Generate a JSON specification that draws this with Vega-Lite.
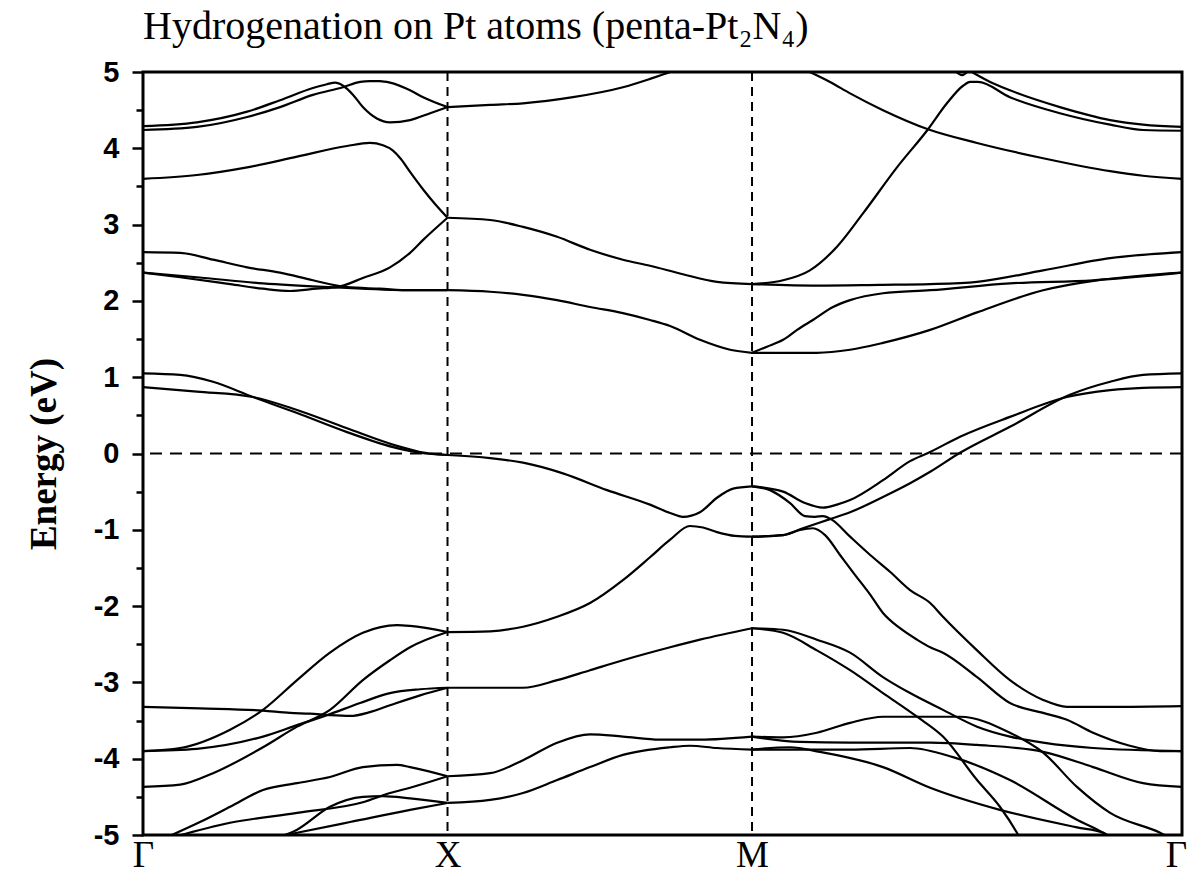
{
  "$schema": "https://vega.github.io/schema/vega-lite/v6.json",
  "width": 1039,
  "height": 763,
  "autosize": {"type": "none"},
  "padding": {"left": 143, "top": 72, "right": 8, "bottom": 49},
  "background": "white",
  "config": {
    "view": {"stroke": "black", "strokeWidth": 3},
    "axis": {"domain": false, "grid": false}
  },
  "title": {
    "text": "Hydrogenation on Pt atoms (penta-Pt₂N₄)",
    "anchor": "start",
    "frame": "group",
    "font": "Liberation Serif",
    "fontSize": 40,
    "fontWeight": "normal",
    "color": "black",
    "offset": 11
  },
  "resolve": {"axis": {"y": "independent"}},
  "layer": [
    {
      "data": {
        "values": [
          {"b":"A1","k":0,"e":4.29},{"b":"A1","k":0.177,"e":4.34},{"b":"A1","k":0.342,"e":4.48},{"b":"A1","k":0.45,"e":4.63},{"b":"A1","k":0.558,"e":4.79},{"b":"A1","k":0.604,"e":4.84},{"b":"A1","k":0.631,"e":4.86},{"b":"A1","k":0.657,"e":4.82},{"b":"A1","k":0.69,"e":4.70},{"b":"A1","k":0.722,"e":4.54},{"b":"A1","k":0.768,"e":4.39},{"b":"A1","k":0.811,"e":4.34},{"b":"A1","k":0.877,"e":4.37},{"b":"A1","k":0.943,"e":4.46},{"b":"A1","k":1,"e":4.54},
          {"b":"A2","k":0,"e":4.24},{"b":"A2","k":0.177,"e":4.28},{"b":"A2","k":0.342,"e":4.41},{"b":"A2","k":0.45,"e":4.54},{"b":"A2","k":0.558,"e":4.70},{"b":"A2","k":0.657,"e":4.80},{"b":"A2","k":0.713,"e":4.87},{"b":"A2","k":0.745,"e":4.88},{"b":"A2","k":0.778,"e":4.88},{"b":"A2","k":0.811,"e":4.86},{"b":"A2","k":0.877,"e":4.76},{"b":"A2","k":0.92,"e":4.67},{"b":"A2","k":1,"e":4.54},
          {"b":"B","k":0,"e":3.60},{"b":"B","k":0.177,"e":3.65},{"b":"B","k":0.342,"e":3.75},{"b":"B","k":0.506,"e":3.89},{"b":"B","k":0.67,"e":4.03},{"b":"B","k":0.745,"e":4.07},{"b":"B","k":0.788,"e":4.04},{"b":"B","k":0.821,"e":3.97},{"b":"B","k":0.847,"e":3.86},{"b":"B","k":0.877,"e":3.69},{"b":"B","k":0.92,"e":3.46},{"b":"B","k":0.959,"e":3.27},{"b":"B","k":1,"e":3.09},
          {"b":"C","k":0,"e":2.37},{"b":"C","k":0.122,"e":2.31},{"b":"C","k":0.286,"e":2.22},{"b":"C","k":0.394,"e":2.16},{"b":"C","k":0.483,"e":2.13},{"b":"C","k":0.571,"e":2.16},{"b":"C","k":0.637,"e":2.18},{"b":"C","k":0.722,"e":2.30},{"b":"C","k":0.811,"e":2.44},{"b":"C","k":0.877,"e":2.63},{"b":"C","k":0.92,"e":2.80},{"b":"C","k":1,"e":3.09},
          {"b":"D1","k":0,"e":2.64},{"b":"D1","k":0.122,"e":2.63},{"b":"D1","k":0.23,"e":2.54},{"b":"D1","k":0.342,"e":2.44},{"b":"D1","k":0.45,"e":2.37},{"b":"D1","k":0.558,"e":2.27},{"b":"D1","k":0.67,"e":2.18},{"b":"D1","k":0.778,"e":2.16},{"b":"D1","k":0.877,"e":2.14},{"b":"D1","k":1,"e":2.14},
          {"b":"D2","k":0,"e":2.37},{"b":"D2","k":0.177,"e":2.31},{"b":"D2","k":0.394,"e":2.23},{"b":"D2","k":0.614,"e":2.18},{"b":"D2","k":0.877,"e":2.14},{"b":"D2","k":1,"e":2.14},
          {"b":"V1","k":0,"e":1.05},{"b":"V1","k":0.122,"e":1.03},{"b":"V1","k":0.23,"e":0.94},{"b":"V1","k":0.361,"e":0.74},{"b":"V1","k":0.506,"e":0.53},{"b":"V1","k":0.67,"e":0.28},{"b":"V1","k":0.834,"e":0.07},{"b":"V1","k":0.91,"e":0.01},{"b":"V1","k":1,"e":-0.02},
          {"b":"V2","k":0,"e":0.87},{"b":"V2","k":0.177,"e":0.81},{"b":"V2","k":0.361,"e":0.74},{"b":"V2","k":0.506,"e":0.57},{"b":"V2","k":0.67,"e":0.33},{"b":"V2","k":0.834,"e":0.10},{"b":"V2","k":0.91,"e":0.02},{"b":"V2","k":1,"e":-0.02},
          {"b":"E1","k":1,"e":-0.02},{"b":"E1","k":1.14,"e":-0.06},{"b":"E1","k":1.248,"e":-0.12},{"b":"E1","k":1.379,"e":-0.26},{"b":"E1","k":1.524,"e":-0.48},{"b":"E1","k":1.665,"e":-0.67},{"b":"E1","k":1.731,"e":-0.78},{"b":"E1","k":1.773,"e":-0.83},{"b":"E1","k":1.829,"e":-0.77},{"b":"E1","k":1.885,"e":-0.58},{"b":"E1","k":1.938,"e":-0.46},{"b":"E1","k":2,"e":-0.43},
          {"b":"E2","k":1,"e":-2.34},{"b":"E2","k":1.14,"e":-2.33},{"b":"E2","k":1.248,"e":-2.27},{"b":"E2","k":1.36,"e":-2.14},{"b":"E2","k":1.468,"e":-1.96},{"b":"E2","k":1.576,"e":-1.66},{"b":"E2","k":1.665,"e":-1.36},{"b":"E2","k":1.731,"e":-1.13},{"b":"E2","k":1.796,"e":-0.95},{"b":"E2","k":1.839,"e":-0.97},{"b":"E2","k":1.885,"e":-1.03},{"b":"E2","k":1.944,"e":-1.08},{"b":"E2","k":2,"e":-1.09},
          {"b":"N1","k":1,"e":2.14},{"b":"N1","k":1.14,"e":2.12},{"b":"N1","k":1.248,"e":2.08},{"b":"N1","k":1.36,"e":2.01},{"b":"N1","k":1.468,"e":1.92},{"b":"N1","k":1.576,"e":1.84},{"b":"N1","k":1.665,"e":1.75},{"b":"N1","k":1.731,"e":1.67},{"b":"N1","k":1.829,"e":1.49},{"b":"N1","k":1.928,"e":1.36},{"b":"N1","k":2,"e":1.32},
          {"b":"N2","k":1,"e":3.09},{"b":"N2","k":1.14,"e":3.06},{"b":"N2","k":1.248,"e":2.97},{"b":"N2","k":1.36,"e":2.84},{"b":"N2","k":1.468,"e":2.67},{"b":"N2","k":1.576,"e":2.54},{"b":"N2","k":1.665,"e":2.46},{"b":"N2","k":1.773,"e":2.35},{"b":"N2","k":1.885,"e":2.25},{"b":"N2","k":2,"e":2.22},
          {"b":"N3","k":1,"e":4.54},{"b":"N3","k":1.14,"e":4.57},{"b":"N3","k":1.248,"e":4.59},{"b":"N3","k":1.412,"e":4.67},{"b":"N3","k":1.576,"e":4.80},{"b":"N3","k":1.665,"e":4.91},{"b":"N3","k":1.731,"e":5.0},{"b":"N3","k":1.796,"e":5.10},
          {"b":"O","k":2.125,"e":5.12},{"b":"O","k":2.19,"e":5.0},{"b":"O","k":2.256,"e":4.87},{"b":"O","k":2.322,"e":4.72},{"b":"O","k":2.43,"e":4.50},{"b":"O","k":2.578,"e":4.25},{"b":"O","k":2.739,"e":4.07},{"b":"O","k":2.956,"e":3.87},{"b":"O","k":3.176,"e":3.70},{"b":"O","k":3.284,"e":3.64},{"b":"O","k":3.412,"e":3.60},
          {"b":"P","k":2,"e":2.22},{"b":"P","k":2.102,"e":2.27},{"b":"P","k":2.19,"e":2.40},{"b":"P","k":2.279,"e":2.71},{"b":"P","k":2.365,"e":3.15},{"b":"P","k":2.476,"e":3.75},{"b":"P","k":2.578,"e":4.25},{"b":"P","k":2.64,"e":4.59},{"b":"P","k":2.693,"e":4.82},{"b":"P","k":2.716,"e":4.87},{"b":"P","k":2.742,"e":4.87},{"b":"P","k":2.847,"e":4.67},{"b":"P","k":3.011,"e":4.46},{"b":"P","k":3.176,"e":4.31},{"b":"P","k":3.284,"e":4.24},{"b":"P","k":3.412,"e":4.23},
          {"b":"Q","k":2.683,"e":5.10},{"b":"Q","k":2.709,"e":5.03},{"b":"Q","k":2.739,"e":4.96},{"b":"Q","k":2.782,"e":4.87},{"b":"Q","k":2.847,"e":4.76},{"b":"Q","k":3.011,"e":4.54},{"b":"Q","k":3.176,"e":4.37},{"b":"Q","k":3.284,"e":4.31},{"b":"Q","k":3.412,"e":4.28},
          {"b":"W","k":2.655,"e":5.06},{"b":"W","k":2.69,"e":4.96},{"b":"W","k":2.72,"e":5.06},
          {"b":"R","k":2,"e":2.22},{"b":"R","k":2.213,"e":2.20},{"b":"R","k":2.42,"e":2.21},{"b":"R","k":2.585,"e":2.22},{"b":"R","k":2.739,"e":2.25},{"b":"R","k":2.956,"e":2.40},{"b":"R","k":3.176,"e":2.56},{"b":"R","k":3.412,"e":2.64},
          {"b":"S","k":2,"e":1.32},{"b":"S","k":2.049,"e":1.40},{"b":"S","k":2.102,"e":1.49},{"b":"S","k":2.148,"e":1.62},{"b":"S","k":2.2,"e":1.75},{"b":"S","k":2.266,"e":1.92},{"b":"S","k":2.322,"e":2.01},{"b":"S","k":2.43,"e":2.10},{"b":"S","k":2.585,"e":2.14},{"b":"S","k":2.847,"e":2.23},{"b":"S","k":3.12,"e":2.27},{"b":"S","k":3.412,"e":2.37},
          {"b":"T","k":2,"e":1.32},{"b":"T","k":2.213,"e":1.32},{"b":"T","k":2.322,"e":1.36},{"b":"T","k":2.43,"e":1.45},{"b":"T","k":2.585,"e":1.62},{"b":"T","k":2.739,"e":1.85},{"b":"T","k":2.956,"e":2.14},{"b":"T","k":3.133,"e":2.27},{"b":"T","k":3.274,"e":2.33},{"b":"T","k":3.412,"e":2.37},
          {"b":"AL","k":2,"e":-0.43},{"b":"AL","k":2.102,"e":-0.50},{"b":"AL","k":2.174,"e":-0.65},{"b":"AL","k":2.233,"e":-0.71},{"b":"AL","k":2.279,"e":-0.67},{"b":"AL","k":2.322,"e":-0.61},{"b":"AL","k":2.43,"e":-0.35},{"b":"AL","k":2.519,"e":-0.10},{"b":"AL","k":2.585,"e":0.02},{"b":"AL","k":2.683,"e":0.22},{"b":"AL","k":2.847,"e":0.48},{"b":"AL","k":3.034,"e":0.74},{"b":"AL","k":3.176,"e":0.83},{"b":"AL","k":3.284,"e":0.86},{"b":"AL","k":3.412,"e":0.87},
          {"b":"BE","k":2,"e":-1.09},{"b":"BE","k":2.102,"e":-1.07},{"b":"BE","k":2.167,"e":-0.98},{"b":"BE","k":2.256,"e":-0.86},{"b":"BE","k":2.322,"e":-0.77},{"b":"BE","k":2.43,"e":-0.57},{"b":"BE","k":2.519,"e":-0.39},{"b":"BE","k":2.585,"e":-0.24},{"b":"BE","k":2.683,"e":0.01},{"b":"BE","k":2.847,"e":0.35},{"b":"BE","k":3.044,"e":0.77},{"b":"BE","k":3.176,"e":0.94},{"b":"BE","k":3.284,"e":1.03},{"b":"BE","k":3.412,"e":1.05},
          {"b":"F","k":2,"e":-0.43},{"b":"F","k":2.059,"e":-0.48},{"b":"F","k":2.125,"e":-0.65},{"b":"F","k":2.174,"e":-0.82},{"b":"F","k":2.207,"e":-0.83},{"b":"F","k":2.233,"e":-0.82},{"b":"F","k":2.263,"e":-0.87},{"b":"F","k":2.322,"e":-1.09},{"b":"F","k":2.388,"e":-1.33},{"b":"F","k":2.453,"e":-1.55},{"b":"F","k":2.519,"e":-1.79},{"b":"F","k":2.585,"e":-1.96},{"b":"F","k":2.627,"e":-2.14},{"b":"F","k":2.739,"e":-2.58},{"b":"F","k":2.847,"e":-2.97},{"b":"F","k":2.956,"e":-3.23},{"b":"F","k":3.034,"e":-3.32},{"b":"F","k":3.176,"e":-3.32},{"b":"F","k":3.412,"e":-3.31},
          {"b":"G","k":2,"e":-1.09},{"b":"G","k":2.102,"e":-1.07},{"b":"G","k":2.158,"e":-1.00},{"b":"G","k":2.2,"e":-0.98},{"b":"G","k":2.24,"e":-1.07},{"b":"G","k":2.289,"e":-1.33},{"b":"G","k":2.338,"e":-1.59},{"b":"G","k":2.388,"e":-1.85},{"b":"G","k":2.43,"e":-2.09},{"b":"G","k":2.486,"e":-2.29},{"b":"G","k":2.542,"e":-2.44},{"b":"G","k":2.585,"e":-2.54},{"b":"G","k":2.627,"e":-2.61},{"b":"G","k":2.739,"e":-2.93},{"b":"G","k":2.847,"e":-3.27},{"b":"G","k":2.956,"e":-3.40},{"b":"G","k":3.034,"e":-3.49},{"b":"G","k":3.12,"e":-3.66},{"b":"G","k":3.232,"e":-3.82},{"b":"G","k":3.34,"e":-3.90},{"b":"G","k":3.412,"e":-3.90},
          {"b":"HU","k":2,"e":-2.29},{"b":"HU","k":2.102,"e":-2.31},{"b":"HU","k":2.213,"e":-2.44},{"b":"HU","k":2.322,"e":-2.61},{"b":"HU","k":2.43,"e":-2.93},{"b":"HU","k":2.519,"e":-3.14},{"b":"HU","k":2.627,"e":-3.36},{"b":"HU","k":2.739,"e":-3.58},{"b":"HU","k":2.847,"e":-3.71},{"b":"HU","k":2.956,"e":-3.79},{"b":"HU","k":3.12,"e":-3.86},{"b":"HU","k":3.412,"e":-3.90},
          {"b":"HL","k":2,"e":-2.29},{"b":"HL","k":2.102,"e":-2.35},{"b":"HL","k":2.213,"e":-2.58},{"b":"HL","k":2.322,"e":-2.84},{"b":"HL","k":2.43,"e":-3.14},{"b":"HL","k":2.542,"e":-3.45},{"b":"HL","k":2.627,"e":-3.71},{"b":"HL","k":2.739,"e":-4.28},{"b":"HL","k":2.814,"e":-4.63},{"b":"HL","k":2.87,"e":-4.97},{"b":"HL","k":2.88,"e":-5.04},
          {"b":"I","k":2,"e":-3.71},{"b":"I","k":2.102,"e":-3.72},{"b":"I","k":2.213,"e":-3.66},{"b":"I","k":2.322,"e":-3.53},{"b":"I","k":2.43,"e":-3.45},{"b":"I","k":2.585,"e":-3.45},{"b":"I","k":2.683,"e":-3.45},{"b":"I","k":2.847,"e":-3.66},{"b":"I","k":2.956,"e":-3.92},{"b":"I","k":3.067,"e":-4.37},{"b":"I","k":3.176,"e":-4.71},{"b":"I","k":3.34,"e":-4.97},{"b":"I","k":3.37,"e":-5.03},
          {"b":"J","k":2,"e":-3.71},{"b":"J","k":2.158,"e":-3.78},{"b":"J","k":2.322,"e":-3.79},{"b":"J","k":2.585,"e":-3.79},{"b":"J","k":2.739,"e":-3.82},{"b":"J","k":2.956,"e":-3.91},{"b":"J","k":3.12,"e":-4.11},{"b":"J","k":3.284,"e":-4.32},{"b":"J","k":3.412,"e":-4.37},
          {"b":"K","k":2,"e":-3.88},{"b":"K","k":2.158,"e":-3.88},{"b":"K","k":2.322,"e":-3.88},{"b":"K","k":2.519,"e":-3.86},{"b":"K","k":2.66,"e":-3.98},{"b":"K","k":2.847,"e":-4.28},{"b":"K","k":3.067,"e":-4.80},{"b":"K","k":3.153,"e":-4.97},{"b":"K","k":3.176,"e":-5.03},
          {"b":"L","k":2,"e":-3.88},{"b":"L","k":2.125,"e":-3.85},{"b":"L","k":2.223,"e":-3.91},{"b":"L","k":2.43,"e":-4.11},{"b":"L","k":2.585,"e":-4.38},{"b":"L","k":2.814,"e":-4.67},{"b":"L","k":3.067,"e":-4.90},{"b":"L","k":3.153,"e":-4.97},{"b":"L","k":3.176,"e":-5.02},
          {"b":"a","k":0,"e":-3.90},{"b":"a","k":0.122,"e":-3.86},{"b":"a","k":0.286,"e":-3.62},{"b":"a","k":0.394,"e":-3.36},{"b":"a","k":0.506,"e":-2.97},{"b":"a","k":0.614,"e":-2.61},{"b":"a","k":0.722,"e":-2.35},{"b":"a","k":0.834,"e":-2.25},{"b":"a","k":0.877,"e":-2.26},{"b":"a","k":1,"e":-2.34},
          {"b":"bb","k":0,"e":-3.90},{"b":"bb","k":0.177,"e":-3.87},{"b":"bb","k":0.394,"e":-3.71},{"b":"bb","k":0.506,"e":-3.56},{"b":"bb","k":0.604,"e":-3.43},{"b":"bb","k":0.713,"e":-3.27},{"b":"bb","k":0.811,"e":-3.14},{"b":"bb","k":0.91,"e":-3.09},{"b":"bb","k":1,"e":-3.07},
          {"b":"c","k":0,"e":-4.37},{"b":"c","k":0.122,"e":-4.34},{"b":"c","k":0.23,"e":-4.19},{"b":"c","k":0.394,"e":-3.85},{"b":"c","k":0.506,"e":-3.58},{"b":"c","k":0.614,"e":-3.36},{"b":"c","k":0.722,"e":-2.97},{"b":"c","k":0.811,"e":-2.71},{"b":"c","k":0.877,"e":-2.54},{"b":"c","k":1,"e":-2.34},
          {"b":"L1","k":0,"e":-3.32},{"b":"L1","k":0.187,"e":-3.34},{"b":"L1","k":0.394,"e":-3.37},{"b":"L1","k":0.483,"e":-3.40},{"b":"L1","k":0.548,"e":-3.41},{"b":"L1","k":0.614,"e":-3.43},{"b":"L1","k":0.68,"e":-3.44},{"b":"L1","k":0.745,"e":-3.39},{"b":"L1","k":0.811,"e":-3.30},{"b":"L1","k":0.91,"e":-3.17},{"b":"L1","k":1,"e":-3.07},
          {"b":"d","k":0.072,"e":-5.04},{"b":"d","k":0.187,"e":-4.83},{"b":"d","k":0.286,"e":-4.63},{"b":"d","k":0.394,"e":-4.41},{"b":"d","k":0.506,"e":-4.32},{"b":"d","k":0.614,"e":-4.24},{"b":"d","k":0.722,"e":-4.11},{"b":"d","k":0.834,"e":-4.08},{"b":"d","k":0.877,"e":-4.11},{"b":"d","k":1,"e":-4.23},
          {"b":"ee","k":0.089,"e":-5.04},{"b":"ee","k":0.286,"e":-4.84},{"b":"ee","k":0.506,"e":-4.71},{"b":"ee","k":0.722,"e":-4.57},{"b":"ee","k":0.811,"e":-4.45},{"b":"ee","k":0.877,"e":-4.38},{"b":"ee","k":1,"e":-4.23},
          {"b":"f","k":0.44,"e":-5.04},{"b":"f","k":0.506,"e":-4.93},{"b":"f","k":0.614,"e":-4.63},{"b":"f","k":0.722,"e":-4.50},{"b":"f","k":0.788,"e":-4.49},{"b":"f","k":0.877,"e":-4.52},{"b":"f","k":1,"e":-4.58},
          {"b":"g","k":0.417,"e":-5.04},{"b":"g","k":0.506,"e":-4.97},{"b":"g","k":0.68,"e":-4.83},{"b":"g","k":0.877,"e":-4.67},{"b":"g","k":1,"e":-4.58},
          {"b":"N4","k":1,"e":-3.07},{"b":"N4","k":1.248,"e":-3.07},{"b":"N4","k":1.36,"e":-2.97},{"b":"N4","k":1.468,"e":-2.84},{"b":"N4","k":1.576,"e":-2.71},{"b":"N4","k":1.731,"e":-2.54},{"b":"N4","k":1.829,"e":-2.44},{"b":"N4","k":2,"e":-2.29},
          {"b":"N5","k":1,"e":-4.23},{"b":"N5","k":1.14,"e":-4.19},{"b":"N5","k":1.248,"e":-4.02},{"b":"N5","k":1.36,"e":-3.79},{"b":"N5","k":1.468,"e":-3.68},{"b":"N5","k":1.576,"e":-3.71},{"b":"N5","k":1.698,"e":-3.75},{"b":"N5","k":1.829,"e":-3.75},{"b":"N5","k":2,"e":-3.71},
          {"b":"N6","k":1,"e":-4.58},{"b":"N6","k":1.14,"e":-4.54},{"b":"N6","k":1.248,"e":-4.45},{"b":"N6","k":1.36,"e":-4.28},{"b":"N6","k":1.468,"e":-4.11},{"b":"N6","k":1.576,"e":-3.95},{"b":"N6","k":1.731,"e":-3.85},{"b":"N6","k":1.796,"e":-3.83},{"b":"N6","k":1.885,"e":-3.86},{"b":"N6","k":2,"e":-3.88}
        ]
      },
      "mark": {"type": "line", "clip": true, "color": "black", "strokeWidth": 2.2, "interpolate": "monotone"},
      "encoding": {
        "x": {
          "field": "k", "type": "quantitative",
          "scale": {"domain": [0, 3.412], "nice": false, "zero": false},
          "axis": {
            "values": [0, 1, 2, 3.412],
            "labelExpr": "datum.value == 0 ? 'Γ' : datum.value == 1 ? 'X' : datum.value == 2 ? 'M' : 'Γ'",
            "title": null,
            "ticks": false,
            "labelFont": "Liberation Serif",
            "labelFontSize": 37,
            "labelColor": "black",
            "labelPadding": 2,
            "labelFlush": false,
            "labelOffset": {"condition": {"test": "datum.value > 3", "value": -6}, "value": 0}
          }
        },
        "y": {
          "field": "e", "type": "quantitative",
          "scale": {"domain": [-5, 5], "nice": false},
          "axis": {
            "orient": "left",
            "values": [-5, -4, -3, -2, -1, 0, 1, 2, 3, 4, 5],
            "labelExpr": "'' + datum.value",
            "title": "Energy (eV)",
            "titleFont": "Liberation Serif",
            "titleFontWeight": "bold",
            "titleFontSize": 37,
            "titleColor": "black",
            "titlePadding": 30,
            "labelFont": "Liberation Sans",
            "labelFontWeight": "bold",
            "labelFontSize": 29,
            "labelColor": "black",
            "labelPadding": 13,
            "labelFlush": false,
            "labelOverlap": false,
            "tickColor": "black",
            "tickWidth": 2.5,
            "tickSize": 11
          }
        },
        "detail": {"field": "b"}
      }
    },
    {
      "data": {"values": [{"k": 1}, {"k": 2}]},
      "mark": {"type": "rule", "color": "black", "strokeWidth": 2, "strokeDash": [9, 6]},
      "encoding": {"x": {"field": "k", "type": "quantitative"}}
    },
    {
      "data": {"values": [{"e": 0}]},
      "mark": {"type": "rule", "color": "black", "strokeWidth": 2, "strokeDash": [12, 8]},
      "encoding": {
        "y": {
          "field": "e", "type": "quantitative",
          "axis": {
            "orient": "left",
            "values": [-4.5, -3.5, -2.5, -1.5, -0.5, 0.5, 1.5, 2.5, 3.5, 4.5],
            "labels": false,
            "title": null,
            "tickColor": "black",
            "tickWidth": 2.5,
            "tickSize": 7
          }
        }
      }
    }
  ]
}
